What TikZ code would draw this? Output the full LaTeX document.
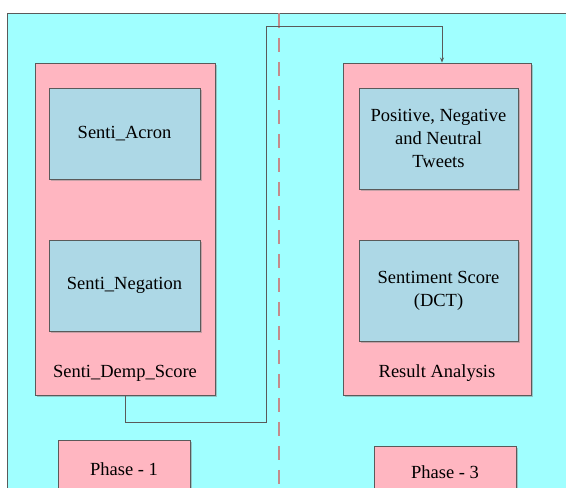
\documentclass[tikz,border=0pt]{standalone}
\usepackage{fontspec}
\setmainfont{Liberation Serif}
\usepackage{tikz}
\usetikzlibrary{arrows.meta,positioning,shadows}
\definecolor{cbg}{HTML}{A0FFFF}
\definecolor{cpink}{HTML}{FFB6C1}
\definecolor{cblue}{HTML}{ADD8E6}
\definecolor{cline}{HTML}{5A5A5A}
\definecolor{cdash}{HTML}{C38C8C}
\tikzset{
  box/.style={draw=cline, line width=0.9pt, inner sep=2pt, align=center,
    font=\fontsize{18.5}{23}\selectfont,
    drop shadow={shadow xshift=2pt, shadow yshift=-2pt, fill=black!45, opacity=0.5}},
  phase/.style={box, fill=cpink},
  task/.style={box, fill=cblue, minimum width=151pt},
  lbl/.style={font=\fontsize{18.5}{23}\selectfont},
  flow/.style={draw=cline, line width=0.9pt, -{Stealth[length=5pt,width=4pt]}},
  split/.style={draw=cdash, line width=2pt, dash pattern=on 14pt off 10pt},
}
\begin{document}
\begin{tikzpicture}[x=1pt,y=1pt]
\useasboundingbox (0,0) rectangle (566,488);
\clip (0,0) rectangle (566,488);
\fill[cbg, draw=cline, line width=0.9pt] (7,475) rectangle (580,-20);
% phase dividers
\draw[draw=cdash, line width=2pt] (279,475) -- (279,460);
\draw[split] (279,450) -- (279,0);
% phase 1
\node[phase, minimum width=180pt, minimum height=332pt] (demp) at (125,259) {};
\node[task, minimum height=91pt] (acron) at (124.5,354.5) {Senti\_Acron};
\node[task, minimum height=91pt] (negation) at (124.5,202.5) {Senti\_Negation};
\node[lbl] (dempl) at (125,115) {Senti\_Demp\_Score};
\node[phase, minimum width=132pt, minimum height=58pt] (p1) at (124,19) {Phase - 1};
% phase 3
\node[phase, minimum width=188pt, minimum height=332pt] (result) at (437,259) {};
\node[task, minimum width=159pt, minimum height=101pt] (tweets) at (438.5,349.5) {Positive, Negative\\and Neutral\\Tweets};
\node[task, minimum width=159pt, minimum height=101pt] (dct) at (438.5,197.5) {Sentiment Score\\(DCT)};
\node[lbl] (resultl) at (437,115) {Result Analysis};
\node[phase, minimum width=142pt, minimum height=52pt] (p3) at (445,16) {Phase - 3};
% link between phases
\coordinate (via) at (266,462);
\draw[flow] (demp.south) |- (via |- 0,66) -- (via) -| ([xshift=5pt]result.north);
\end{tikzpicture}
\end{document}
